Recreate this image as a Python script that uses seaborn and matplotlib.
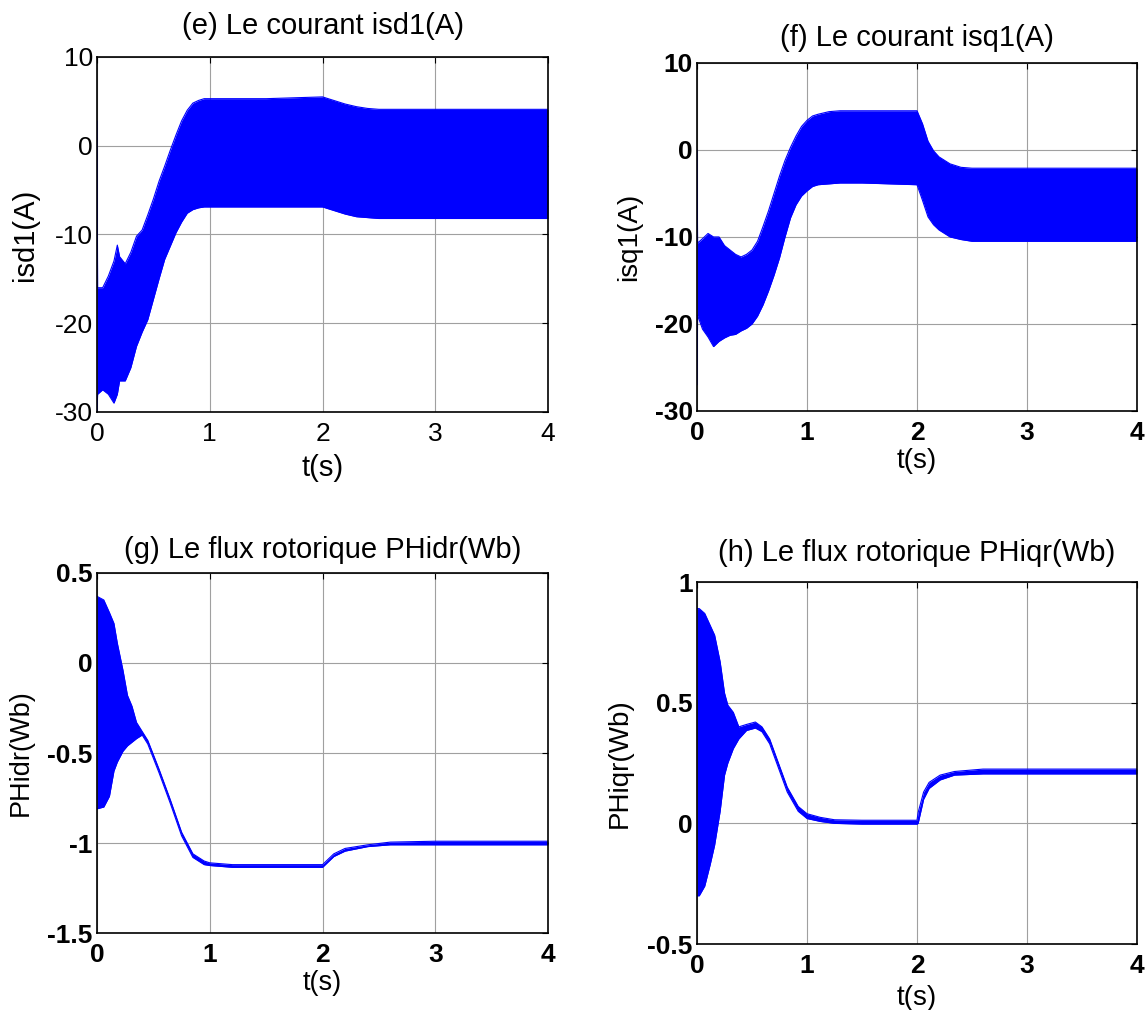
import matplotlib
matplotlib.use("Agg")
import matplotlib.pyplot as plt
import seaborn as sns

# enveloppes (haut / bas des oscillations)
t_isd1 = [0, 0.005, 0.05, 0.1, 0.15, 0.18, 0.2, 0.25, 0.3, 0.35, 0.4, 0.45, 0.5, 0.55,
          0.6, 0.65, 0.7, 0.75, 0.8, 0.85, 0.9, 0.95, 1.0, 1.5, 2.0, 2.1, 2.2, 2.3, 2.4,
          2.5, 3.0, 3.5, 4.0]
isd1_haut = [2.8, -16, -16, -14.7, -13, -11.2, -12.5, -13.3, -12, -10.2, -9.5, -7.8, -6,
             -4, -2.3, -0.5, 1.2, 2.8, 4.0, 4.8, 5.1, 5.3, 5.3, 5.3, 5.5, 5.1, 4.7, 4.4,
             4.2, 4.1, 4.1, 4.1, 4.1]
isd1_bas = [-30, -28, -27.5, -28, -29, -28, -26.5, -26.5, -25, -22.6, -21, -19.6, -17.3,
            -15, -12.8, -11.3, -9.8, -8.6, -7.6, -7.2, -7.0, -6.9, -6.9, -6.9, -6.9, -7.3,
            -7.7, -8.0, -8.1, -8.2, -8.2, -8.2, -8.2]

t_isq1 = [0, 0.005, 0.05, 0.1, 0.15, 0.2, 0.25, 0.3, 0.35, 0.4, 0.45, 0.5, 0.55, 0.6,
          0.65, 0.7, 0.75, 0.8, 0.85, 0.9, 0.95, 1.0, 1.05, 1.1, 1.2, 1.3, 1.5, 2.0,
          2.05, 2.1, 2.15, 2.2, 2.3, 2.4, 2.5, 3.0, 3.5, 4.0]
isq1_haut = [0, -10.7, -10.2, -9.6, -10, -10, -11, -11.5, -12, -12.3, -12, -11.5, -10.5,
             -8.8, -7, -5, -3, -1.2, 0.3, 1.6, 2.7, 3.4, 3.9, 4.1, 4.4, 4.5, 4.5, 4.5,
             3, 1, -0.1, -0.8, -1.6, -2, -2.1, -2.1, -2.1, -2.1]
isq1_bas = [-27, -19, -20.6, -21.5, -22.6, -22, -21.6, -21.3, -21.2, -20.8, -20.5, -20,
            -19.1, -17.8, -16.2, -14.4, -12.4, -10, -7.8, -6.3, -5.3, -4.7, -4.2, -4.0,
            -3.9, -3.8, -3.8, -4.0, -5.8, -7.7, -8.6, -9.2, -10, -10.3, -10.5, -10.5,
            -10.5, -10.5]

t_phidr = [0, 0.06, 0.11, 0.15, 0.18, 0.23, 0.27, 0.31, 0.35, 0.4, 0.45, 0.55, 0.65,
           0.75, 0.85, 0.95, 1.0, 1.2, 1.5, 2.0, 2.05, 2.1, 2.2, 2.4, 2.6, 3.0, 4.0]
phidr_haut = [0.37, 0.35, 0.28, 0.22, 0.11, -0.04, -0.18, -0.24, -0.33, -0.38, -0.43,
              -0.59, -0.76, -0.94, -1.06, -1.1, -1.11, -1.12, -1.12, -1.12, -1.09,
              -1.06, -1.03, -1.01, -0.995, -0.99, -0.99]
phidr_bas = [-0.81, -0.80, -0.74, -0.6, -0.55, -0.49, -0.46, -0.44, -0.42, -0.40, -0.45,
             -0.61, -0.78, -0.96, -1.08, -1.12, -1.125, -1.135, -1.135, -1.135, -1.105,
             -1.075, -1.045, -1.02, -1.01, -1.01, -1.01]

t_phiqr = [0, 0.02, 0.07, 0.12, 0.16, 0.21, 0.25, 0.28, 0.33, 0.38, 0.45, 0.53, 0.59,
           0.66, 0.74, 0.82, 0.92, 1.0, 1.12, 1.25, 1.5, 2.0, 2.01, 2.06, 2.11, 2.21,
           2.34, 2.6, 3.0, 4.0]
phiqr_haut = [0.89, 0.89, 0.87, 0.82, 0.78, 0.67, 0.54, 0.49, 0.46, 0.40, 0.41, 0.42,
              0.40, 0.35, 0.25, 0.15, 0.07, 0.04, 0.025, 0.015, 0.013, 0.013, 0.045,
              0.13, 0.17, 0.2, 0.215, 0.225, 0.225, 0.225]
phiqr_bas = [-0.30, -0.30, -0.26, -0.17, -0.09, 0.05, 0.2, 0.25, 0.31, 0.35, 0.385, 0.395,
             0.38, 0.33, 0.23, 0.13, 0.05, 0.02, 0.008, 0.0, -0.003, -0.003, 0.0, 0.1,
             0.145, 0.18, 0.2, 0.205, 0.205, 0.205]

sns.set_style("white")
plt.rcParams['font.family'] = ['Liberation Sans', 'DejaVu Sans']
plt.rcParams['text.color'] = 'black'
plt.rcParams['axes.labelcolor'] = 'black'
plt.rcParams['xtick.color'] = 'black'
plt.rcParams['ytick.color'] = 'black'

fig = plt.figure(figsize=(11.47, 10.10), dpi=100)

panneaux = [
    # position, t, haut, bas, titre, ylabel, yticks, labels, gras,
    # taille titre, pad titre, taille labels, x ylabel, y xlabel
    ([0.0846, 0.5921, 0.3932, 0.3515], t_isd1, isd1_haut, isd1_bas,
     '(e) Le courant isd1(A)', 'isd1(A)', [-30, -20, -10, 0, 10],
     ['-30', '-20', '-10', '0', '10'], False, 21, 16.5, 21, -0.16, -0.158),
    ([0.6077, 0.5931, 0.3836, 0.3446], t_isq1, isq1_haut, isq1_bas,
     '(f) Le courant isq1(A)', 'isq1(A)', [-30, -20, -10, 0, 10],
     ['-30', '-20', '-10', '0', '10'], True, 21, 12, 20, -0.155, -0.145),
    ([0.0846, 0.0762, 0.3932, 0.3565], t_phidr, phidr_haut, phidr_bas,
     '(g) Le flux rotorique PHidr(Wb)', 'PHidr(Wb)', [-1.5, -1, -0.5, 0, 0.5],
     ['-1.5', '-1', '-0.5', '0', '0.5'], True, 21, 11, 19.5, -0.17, -0.14),
    ([0.6077, 0.0653, 0.3836, 0.3584], t_phiqr, phiqr_haut, phiqr_bas,
     '(h) Le flux rotorique PHiqr(Wb)', 'PHiqr(Wb)', [-0.5, 0, 0.5, 1],
     ['-0.5', '0', '0.5', '1'], True, 21, 15, 20, -0.175, -0.148),
]

for pos, t, haut, bas, titre, ylab, yt, ytl, gras, ttitre, pad, tlab, ylx, xly in panneaux:
    ax = fig.add_axes(pos)
    ax.fill_between(t, bas, haut, color='blue', lw=0)
    sns.lineplot(x=t, y=haut, ax=ax, color='blue', lw=0.8)
    sns.lineplot(x=t, y=bas, ax=ax, color='blue', lw=0.8)
    ax.set_xlim(0, 4)
    ax.set_ylim(yt[0], yt[-1])
    ax.set_xticks([0, 1, 2, 3, 4])
    ax.set_yticks(yt)
    poids = 'bold' if gras else 'normal'
    taille = 19
    ax.set_xticklabels(['0', '1', '2', '3', '4'], fontsize=taille, fontweight=poids)
    ax.set_yticklabels(ytl, fontsize=taille, fontweight=poids)
    ax.grid(True, color='#a0a0a0', lw=0.8)
    ax.tick_params(direction='in', length=4, width=0.8, top=True, right=True, pad=3)
    ax.tick_params(axis='x', pad=7)
    for s in ax.spines.values():
        s.set_color('black')
        s.set_linewidth(1.2)
    ax.set_title(titre, fontsize=ttitre, pad=pad)
    ax.set_xlabel('t(s)', fontsize=tlab)
    ax.set_ylabel(ylab, fontsize=tlab)
    ax.xaxis.set_label_coords(0.5, xly)
    ax.xaxis.label.set_va('center')
    ax.yaxis.set_label_coords(ylx, 0.5)
    ax.yaxis.label.set_va('center')

fig.savefig('out.png', dpi=100, facecolor='white')
